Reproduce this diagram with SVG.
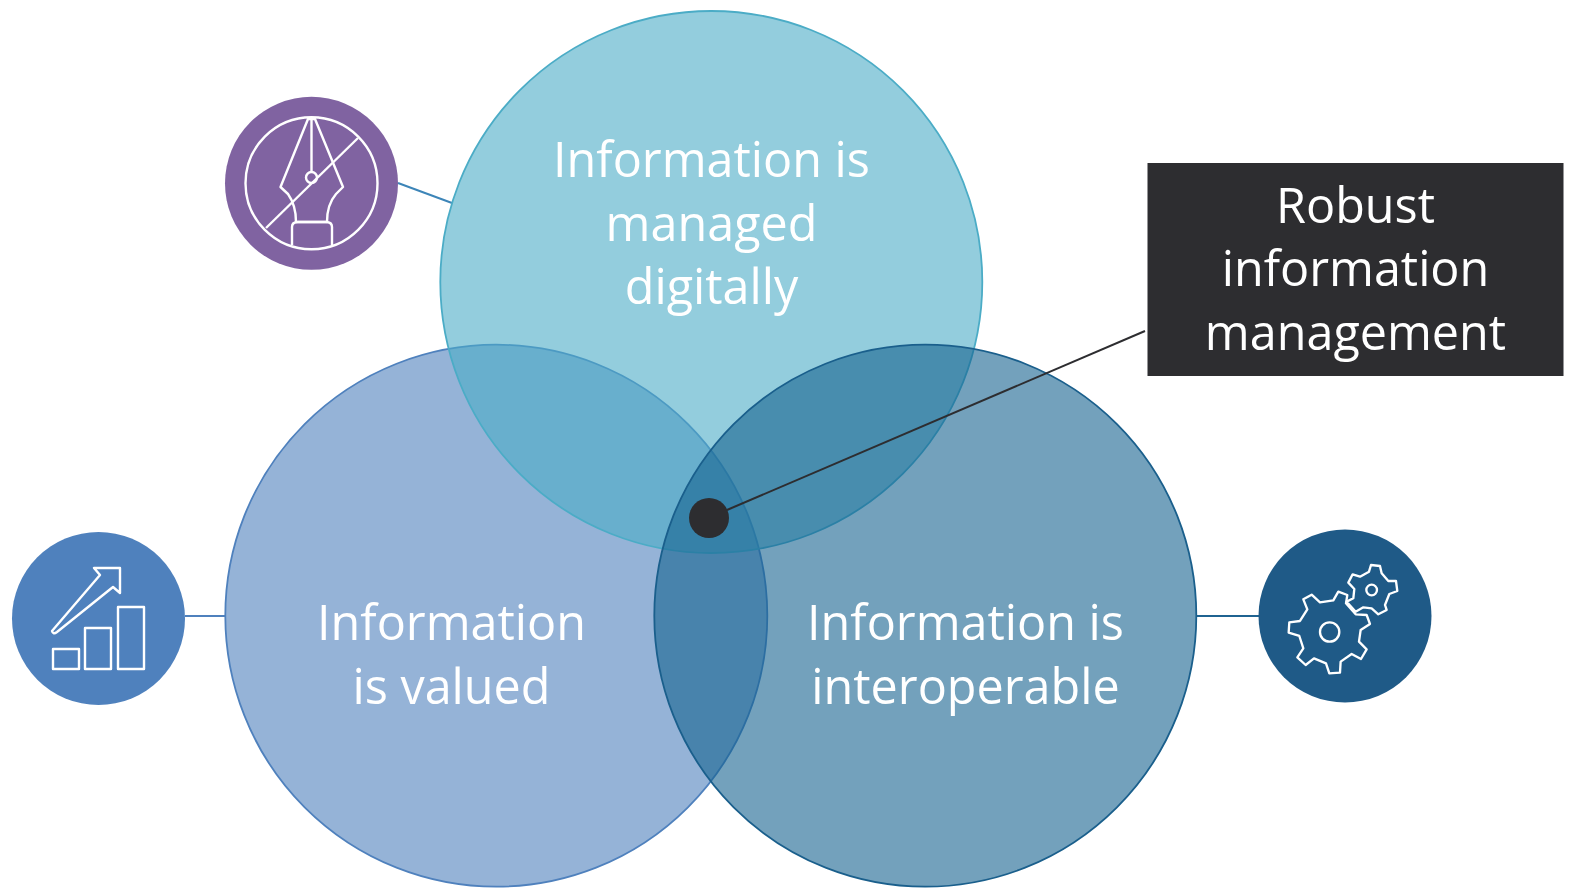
<svg xmlns="http://www.w3.org/2000/svg" width="1569" height="888" viewBox="0 0 1569 888">
<style>
.t{font-family:"Open Sans","Noto Sans",sans-serif;font-size:48.500px;fill:#fff;text-anchor:middle}
.ic{fill:none;stroke:#fff;stroke-width:2.400;stroke-linejoin:round}
.big{stroke-width:1.800;fill-opacity:.6}
</style>
<rect width="1569" height="888" fill="#fff"/>
<g id="connectors" fill="none" stroke-width="2">
<path d="M398 183L452 203" stroke="#3d85b8"/>
<path d="M185 616H226" stroke="#4f81bd"/>
<path d="M1196 616H1259" stroke="#1f6391"/>
</g>
<g id="node-valued"><circle class="big" cx="496.300" cy="615.700" r="271" fill="#4f81bd" stroke="#4f81bd"/></g>
<g id="node-digital"><circle class="big" cx="711.300" cy="282" r="271" fill="#4bacc6" stroke="#4bacc6"/></g>
<g id="node-interop"><circle class="big" cx="925.300" cy="615.700" r="271" fill="#15628f" stroke="#1a5f8c"/></g>
<g id="labels">
<text class="t" x="711.500" y="177">Information is</text>
<text class="t" x="711.500" y="240.500">managed</text>
<text class="t" x="711.500" y="304">digitally</text>
<text class="t" x="451.500" y="640">Information</text>
<text class="t" x="451.500" y="703.500">is valued</text>
<text class="t" x="965.500" y="640">Information is</text>
<text class="t" x="965.500" y="703.500">interoperable</text>
</g>
<g id="node-center">
<path d="M727 510L1145 331" stroke="#2d2d30" stroke-width="2" fill="none"/>
<circle cx="709" cy="518" r="20" fill="#2d2d30"/>
</g>
<g id="node-robust">
<rect x="1147.500" y="163" width="416" height="213" fill="#2d2d30"/>
<text class="t" x="1355.500" y="222.500">Robust</text>
<text class="t" x="1355.500" y="286">information</text>
<text class="t" x="1355.500" y="349.500">management</text>
</g>
<g id="icon-pen">
<circle cx="311.500" cy="183.300" r="86.500" fill="#8063a1"/>
<g class="ic">
<circle cx="311.500" cy="183.300" r="66"/>
<path d="M266 228L358 138"/>
<circle cx="311.500" cy="177.500" r="5.500"/>
<path d="M311.500 172V119"/>
<path d="M308 119H315L343 187L336 194C330 201 327 210 327 222H296C296 210 293 201 288 194L280.500 187Z"/>
<path d="M292 245V227Q292 222 298 222H326Q332 222 332 227V245"/>
</g>
</g>
<g id="icon-chart">
<circle cx="98.500" cy="618.500" r="86.500" fill="#4f81bd"/>
<g class="ic">
<rect x="53" y="649" width="26" height="20"/>
<rect x="85" y="628" width="26" height="41"/>
<rect x="118" y="607" width="26" height="62"/>
<path d="M94 568H120V593L113 587L57 632Q53 635 52 631L100 575Z"/>
</g>
</g>
<g id="icon-gears">
<circle cx="1345" cy="616" r="86.500" fill="#1f5a87"/>
<g class="ic" transform="translate(1190 520) scale(.3333)" style="stroke-width:7">
<circle cx="419" cy="336" r="29"/>
<circle cx="545" cy="210" r="16"/>
<path d="M340 238L365 224L390 247L430 241L445 215L472 225L468 250L497 283L530 285L540 312L512 330L507 365L530 388L513 417L485 402L452 425L450 458L418 460L408 430L372 415L347 435L322 412L340 385L328 348L296 338L298 307L330 303L352 268Z"/>
<path d="M475 188L488 163L510 170L537 155L543 135L570 138L575 160L595 183L618 183L622 213L598 222L585 255L590 270L565 283L545 265L520 262L497 275L470 245L490 235L493 207Z"/>
</g>
</g>
</svg>
